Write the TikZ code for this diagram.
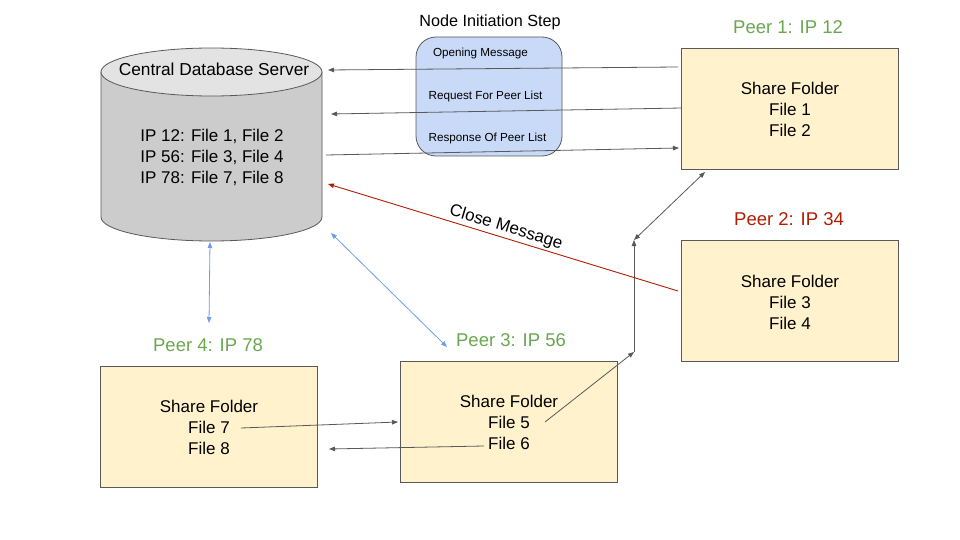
\documentclass[tikz,border=0pt]{standalone}
\usepackage{fontspec}
\setmainfont{Liberation Sans}
\usetikzlibrary{arrows.meta}
\definecolor{boxfill}{HTML}{FFF2CC}
\definecolor{boxline}{HTML}{595959}
\definecolor{cylbody}{HTML}{CCCCCC}
\definecolor{cyltop}{HTML}{E3E3E3}
\definecolor{bluefill}{HTML}{C9DAF8}
\definecolor{peergreen}{HTML}{6AA84F}
\definecolor{peerred}{HTML}{B01E05}
\definecolor{linkblue}{HTML}{6D9EEB}
\definecolor{arrowgray}{HTML}{595959}
\tikzset{
  main/.style={font=\fontsize{17}{21}\selectfont, align=center, inner sep=0pt},
  small/.style={font=\fontsize{11.7}{14}\selectfont, inner sep=0pt},
  peerlabel/.style={font=\fontsize{18.5}{22}\selectfont, inner sep=0pt},
  peerbox/.style={draw=boxline, fill=boxfill, line width=0.8pt, minimum width=217pt, minimum height=121pt, inner sep=0pt},
  tip/.style={-{Triangle[length=6pt,width=4.5pt]}},
  grayarrow/.style={draw=arrowgray, line width=0.8pt, tip},
  bluearrow/.style={draw=linkblue, line width=0.8pt, {Triangle[length=6pt,width=4.5pt]}-{Triangle[length=6pt,width=4.5pt]}},
}
\begin{document}
\begin{tikzpicture}[x=1pt,y=-1pt]
\useasboundingbox (0,0) rectangle (960,540);
\fill[white] (0,0) rectangle (960,540);

% Cylinder
\path[draw=boxline, fill=cylbody, line width=0.8pt] (101,72) -- (101,217)
  arc[start angle=180, end angle=0, x radius=110.5, y radius=24] -- (322,72) -- cycle;
\path[draw=boxline, fill=cyltop, line width=0.8pt] (211.5,72) ellipse[x radius=110.5, y radius=24];
\node[inner sep=0pt, minimum width=221pt, minimum height=196pt] (db) at (211.5,143) {};
\node[main, font=\fontsize{17.3}{21}\selectfont] (dbtitle) at (214,69) {Central Database Server};
\node[main] (dbtext) at (212,157) {IP 12: File 1, File 2\\IP 56: File 3, File 4\\IP 78: File 7, File 8};

% Node initiation box
\node[draw=boxline, fill=bluefill, line width=0.8pt, rounded corners=20pt, minimum width=146pt, minimum height=119pt, inner sep=0pt] (init) at (489,96.5) {};
\node[font=\fontsize{16.2}{19}\selectfont, inner sep=0pt] (inittitle) at (490,22) {Node Initiation Step};
\node[small] (m1) at (480.5,53) {Opening Message};
\node[small] (m2) at (485.5,96) {Request For Peer List};
\node[small] (m3) at (487.5,138) {Response Of Peer List};

% Peer boxes
\node[peerbox] (p1) at (790,108.5) {};
\node[main] (p1t) at (790,109) {Share Folder\\File 1\\File 2};
\node[peerlabel, text=peergreen] (p1l) at (788,27) {Peer 1: IP 12};

\node[peerbox] (p2) at (790,301) {};
\node[main] (p2t) at (790,302) {Share Folder\\File 3\\File 4};
\node[peerlabel, text=peerred] (p2l) at (789,219) {Peer 2: IP 34};

\node[peerbox] (p4) at (208.5,426.5) {};
\node[main] (p4t) at (209,427) {Share Folder\\File 7\\File 8};
\node[peerlabel, text=peergreen] (p4l) at (208,345) {Peer 4: IP 78};

\node[peerbox] (p3) at (508.5,421.5) {};
\node[main] (p3t) at (509,422) {Share Folder\\File 5\\File 6};
\node[peerlabel, text=peergreen] (p3l) at (511,340) {Peer 3: IP 56};

% Connector endpoints
\coordinate (a1s) at (678,67);  \coordinate (a1e) at (328,70);
\coordinate (a2s) at (682,108); \coordinate (a2e) at (331,114);
\coordinate (a3s) at (326,155); \coordinate (a3e) at (679,148);
\coordinate (cls) at (678,291); \coordinate (cle) at (328,184);
\coordinate (b1s) at (210,242); \coordinate (b1e) at (209,323);
\coordinate (b2s) at (331,233); \coordinate (b2e) at (447,347);
\coordinate (f7s) at (241,428); \coordinate (f7e) at (398,422);
\coordinate (f6s) at (484,446); \coordinate (f6e) at (329,449);
\coordinate (f5s) at (545,422); \coordinate (k1) at (634,352);
\coordinate (k2) at (634,240);  \coordinate (k3) at (705,172);

% Gray arrows
\draw[grayarrow] (a1s) -- (a1e);
\draw[grayarrow] (a2s) -- (a2e);
\draw[grayarrow] (a3s) -- (a3e);
\draw[grayarrow] (f7s) -- (f7e);
\draw[grayarrow] (f6s) -- (f6e);
\draw[grayarrow] (f5s) -- (k1);
\draw[grayarrow] (k1) -- (k2);
\draw[draw=arrowgray, line width=0.8pt, {Triangle[length=6pt,width=4.5pt]}-{Triangle[length=6pt,width=4.5pt]}] (k2) -- (k3);

% Close message
\draw[draw=peerred, line width=0.9pt, tip] (cls) -- (cle)
  node[pos=0.5, above=1pt, sloped, font=\fontsize{17}{21}\selectfont, text=black, inner sep=1pt] (closelbl) {Close Message};

% Blue links
\draw[bluearrow] (b1s) -- (b1e);
\draw[bluearrow] (b2s) -- (b2e);
\end{tikzpicture}
\end{document}
